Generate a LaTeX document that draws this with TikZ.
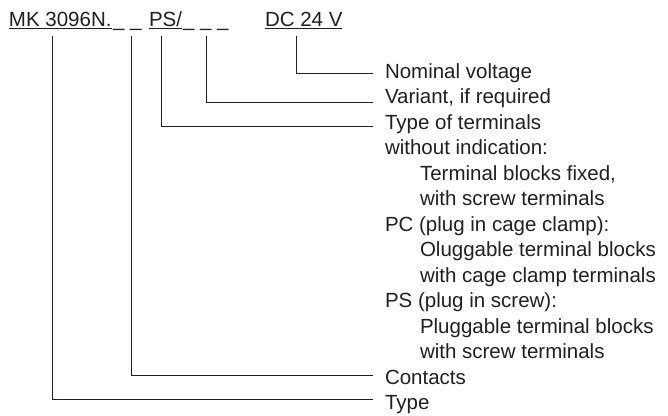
\documentclass[tikz,border=0pt]{standalone}
\usepackage{fontspec}
\setmainfont{Liberation Sans}
\newcommand\ulx[1]{\setbox0\hbox{#1}\rlap{\rule[-2.4pt]{\wd0}{0.9pt}}\box0}
\definecolor{ink}{HTML}{231F20}
\begin{document}
\begin{tikzpicture}[x=1pt,y=-1pt,
  txt/.style={anchor=base west,inner sep=0pt,outer sep=0pt,text=ink,font=\fontsize{20.5}{24}\selectfont},
  conn/.style={draw=ink,line width=0.9pt}]
\useasboundingbox (0,0) rectangle (668,415);
% header
\node[txt] (mk) at (9,26) {\ulx{MK 3096N.}};
\node[txt] (bl1) at (113,26) {\_ \_};
\node[txt] (ps) at (149,26) {\ulx{PS/}};
\node[txt] (bl2) at (183,26) {\_ \_ \_};
\node[txt] (dc) at (265,26) {\ulx{DC 24 V}};
% labels
\node[txt] (nom) at (385,78) {Nominal voltage};
\node[txt] (var) at (385,103.5) {Variant, if required};
\node[txt] (tot) at (385,129) {Type of terminals};
\node[txt] (woi) at (385,154.5) {without indication:};
\node[txt] (tbf) at (420,180) {Terminal blocks fixed,};
\node[txt] (wst1) at (420,205.5) {with screw terminals};
\node[txt] (pc) at (385,231) {PC (plug in cage clamp):};
\node[txt] (olu) at (420,256.5) {Oluggable terminal blocks};
\node[txt] (wcc) at (420,282) {with cage clamp terminals};
\node[txt] (pss) at (385,307.5) {PS (plug in screw):};
\node[txt] (plu) at (420,333) {Pluggable terminal blocks};
\node[txt] (wst2) at (420,358.5) {with screw terminals};
\node[txt] (con) at (385,384) {Contacts};
\node[txt] (typ) at (385,409.5) {Type};
% connector tops
\coordinate (tType) at (52,36);
\coordinate (tCon) at (131,36);
\coordinate (tPS) at (161,36);
\coordinate (tVar) at (206,36);
\coordinate (tDC) at (296,36);
% connector ends
\coordinate (eNom) at (373,73);
\coordinate (eVar) at (373,102);
\coordinate (eTot) at (373,126);
\coordinate (eCon) at (373,375);
\coordinate (eTyp) at (373,399);
\draw[conn] (tDC) |- (eNom);
\draw[conn] (tVar) |- (eVar);
\draw[conn] (tPS) |- (eTot);
\draw[conn] (tCon) |- (eCon);
\draw[conn] (tType) |- (eTyp);
\end{tikzpicture}
\end{document}
